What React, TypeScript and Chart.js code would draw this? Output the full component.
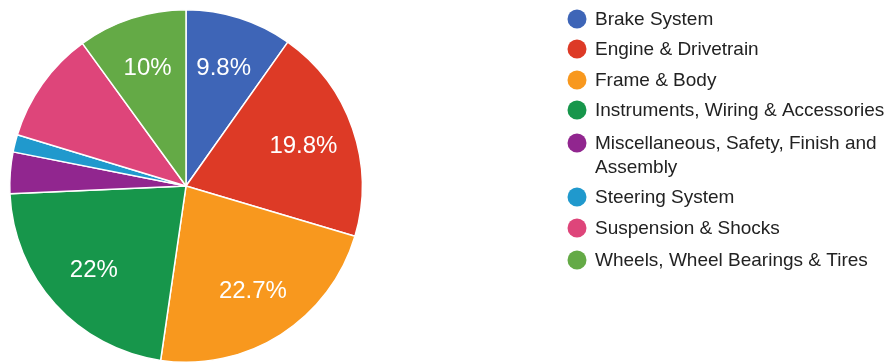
import React, { useEffect, useRef } from "react";
import { Chart, registerables } from "chart.js";

Chart.register(...registerables);

const categories: string[] = [
  "Brake System",
  "Engine & Drivetrain",
  "Frame & Body",
  "Instruments, Wiring & Accessories",
  "Miscellaneous, Safety, Finish and Assembly",
  "Steering System",
  "Suspension & Shocks",
  "Wheels, Wheel Bearings & Tires",
];
const legendLines: string[][] = [
  ["Brake System"],
  ["Engine & Drivetrain"],
  ["Frame & Body"],
  ["Instruments, Wiring & Accessories"],
  ["Miscellaneous, Safety, Finish and", "Assembly"],
  ["Steering System"],
  ["Suspension & Shocks"],
  ["Wheels, Wheel Bearings & Tires"],
];
const shares: number[] = [9.8, 19.8, 22.7, 22.0, 3.8, 1.6, 10.3, 10.0];
const sliceLabels: string[] = ["9.8%", "19.8%", "22.7%", "22%", "", "", "", "10%"];
const colors: string[] = [
  "#3e65b7",
  "#dd3a26",
  "#f8981e",
  "#17964b",
  "#91268f",
  "#2099cd",
  "#de457a",
  "#64aa46",
];

const FONT = "'Liberation Sans', Arial, sans-serif";

const overlayPlugin = {
  id: "overlay",
  afterDatasetsDraw(chart: any) {
    const ctx = chart.ctx;
    const meta = chart.getDatasetMeta(0);
    ctx.save();
    ctx.fillStyle = "#ffffff";
    ctx.font = `24px ${FONT}`;
    ctx.textAlign = "center";
    ctx.textBaseline = "middle";
    meta.data.forEach((arc: any, i: number) => {
      const t = sliceLabels[i];
      if (!t) return;
      const { x, y, startAngle, endAngle, outerRadius } = arc.getProps(
        ["x", "y", "startAngle", "endAngle", "outerRadius"],
        true
      );
      const mid = (startAngle + endAngle) / 2;
      const r = outerRadius * 0.705;
      ctx.fillText(t, x + Math.cos(mid) * r, y + Math.sin(mid) * r + 1);
    });
    ctx.restore();
  },
  afterDraw(chart: any) {
    const ctx = chart.ctx;
    ctx.save();
    const rowY = [19, 49, 80, 110, 143, 197, 228, 260];
    legendLines.forEach((lines, i) => {
      const y = rowY[i];
      ctx.beginPath();
      ctx.fillStyle = colors[i];
      ctx.arc(577, y, 9.5, 0, Math.PI * 2);
      ctx.fill();
      ctx.fillStyle = "#222222";
      ctx.font = `19px ${FONT}`;
      ctx.textAlign = "left";
      ctx.textBaseline = "middle";
      lines.forEach((ln, k) => {
        ctx.fillText(ln, 595, y + k * 24 + 1);
      });
    });
    ctx.restore();
  },
};

export default function App() {
  const ref = useRef<HTMLCanvasElement | null>(null);
  useEffect(() => {
    document.body.style.margin = "0";
    const chart = new Chart(ref.current as HTMLCanvasElement, {
      type: "pie",
      data: {
        labels: categories,
        datasets: [
          {
            data: shares,
            backgroundColor: colors,
            borderColor: "#ffffff",
            borderWidth: 1.5,
          },
        ],
      },
      options: {
        animation: false,
        responsive: false,
        rotation: 0,
        layout: { padding: { left: 9, right: 528, top: 9, bottom: 0 } },
        plugins: {
          legend: { display: false },
          tooltip: { enabled: false },
        },
      },
      plugins: [overlayPlugin],
    });
    return () => chart.destroy();
  }, []);
  return (
    <div style={{ position: "fixed", left: 0, top: 0, width: 891, height: 363, background: "#fff" }}>
      <canvas ref={ref} width={891} height={363} style={{ display: "block" }} />
    </div>
  );
}
